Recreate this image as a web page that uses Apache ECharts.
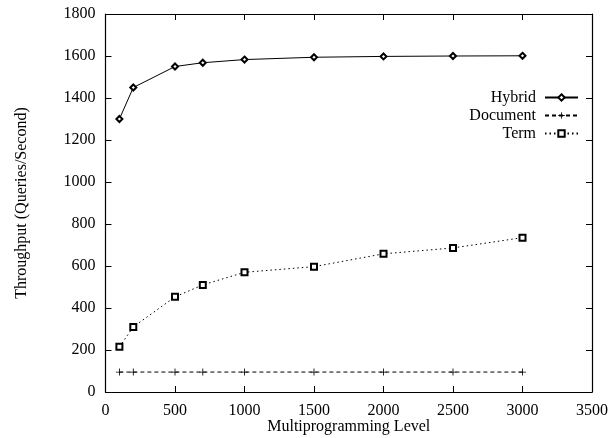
<!DOCTYPE html>
<html>
<head>
<meta charset="utf-8">
<script src="https://cdn.jsdelivr.net/npm/echarts@6/dist/echarts.min.js"></script>
<style>
  html, body { margin: 0; padding: 0; background: #fff; }
  #chart { width: 610px; height: 438px; }
</style>
</head>
<body>
<div id="chart"></div>
<script>
// Multiprogramming levels measured
const levels = [100, 200, 500, 700, 1000, 1500, 2000, 2500, 3000];
// Throughput (queries/second) per partitioning scheme
const hybrid = [1300, 1450, 1550, 1568, 1583, 1594, 1598, 1600, 1601];
const documentPart = [95, 95, 95, 95, 95, 95, 95, 95, 95];
const termPart = [215, 310, 453, 510, 570, 597, 658, 686, 735];

const font = 'Liberation Serif, Times New Roman, serif';
const plusPath = 'path://M4.4,0H5.6V4.4H10V5.6H5.6V10H4.4V5.6H0V4.4H4.4Z';

const pairs = ys => levels.map((x, i) => [x, ys[i]]);
const plain = v => String(v);

const tick = { show: true, inside: true, length: 6, lineStyle: { color: '#000', width: 1 } };
const line = { show: true, onZero: false, lineStyle: { color: '#000', width: 1.2 } };

const xBase = {
  type: 'value', min: 0, max: 3500, interval: 500,
  axisLine: line, axisTick: tick, splitLine: { show: false }
};
const yBase = {
  type: 'value', min: 0, max: 1800, interval: 200,
  axisLine: line, axisTick: tick, splitLine: { show: false }
};

const chart = echarts.init(document.getElementById('chart'), null, { renderer: 'canvas' });
chart.setOption({
  animation: false,
  backgroundColor: '#fff',
  textStyle: { fontFamily: font, color: '#000' },
  grid: { left: 105.5, right: 18, top: 14, bottom: 46, containLabel: false, outerBoundsMode: 'none' },
  xAxis: [
    Object.assign({}, xBase, {
      position: 'bottom',
      name: 'Multiprogramming Level', nameLocation: 'middle', nameGap: 27,
      nameMoveOverlap: false,
      nameTextStyle: { fontFamily: font, fontSize: 16, color: '#000' },
      axisLabel: { fontFamily: font, fontSize: 16, color: '#000', margin: 11, formatter: plain }
    }),
    Object.assign({}, xBase, { position: 'top', axisLabel: { show: false } })
  ],
  yAxis: [
    Object.assign({}, yBase, {
      position: 'left',
      name: 'Throughput (Queries/Second)', nameLocation: 'middle', nameGap: 76,
      nameMoveOverlap: false,
      nameTextStyle: { fontFamily: font, fontSize: 16, color: '#000' },
      axisLabel: { fontFamily: font, fontSize: 16, color: '#000', margin: 10, formatter: plain }
    }),
    Object.assign({}, yBase, { position: 'right', axisLabel: { show: false } })
  ],
  legend: {
    orient: 'vertical', align: 'right', right: 26, top: 84,
    itemWidth: 33, itemHeight: 8, itemGap: 1,
    textStyle: { fontFamily: font, fontSize: 16, lineHeight: 17, color: '#000', padding: [0, 4, 0, 0] },
    data: ['Hybrid', 'Document', 'Term']
  },
  series: [
    {
      name: 'Hybrid', type: 'line', data: pairs(hybrid),
      symbol: 'emptyDiamond', symbolSize: 6,
      lineStyle: { color: '#000', width: 1 },
      itemStyle: { color: '#000', borderColor: '#000', borderWidth: 1.2 }
    },
    {
      name: 'Document', type: 'line', data: pairs(documentPart),
      symbol: plusPath, symbolSize: 7,
      lineStyle: { color: '#000', width: 1, type: [4, 3] },
      itemStyle: { color: '#000', borderWidth: 0 }
    },
    {
      name: 'Term', type: 'line', data: pairs(termPart),
      symbol: 'emptyRect', symbolSize: 6,
      lineStyle: { color: '#000', width: 1, type: [1.5, 3] },
      itemStyle: { color: '#000', borderColor: '#000', borderWidth: 1.2 }
    }
  ]
});
</script>
</body>
</html>
